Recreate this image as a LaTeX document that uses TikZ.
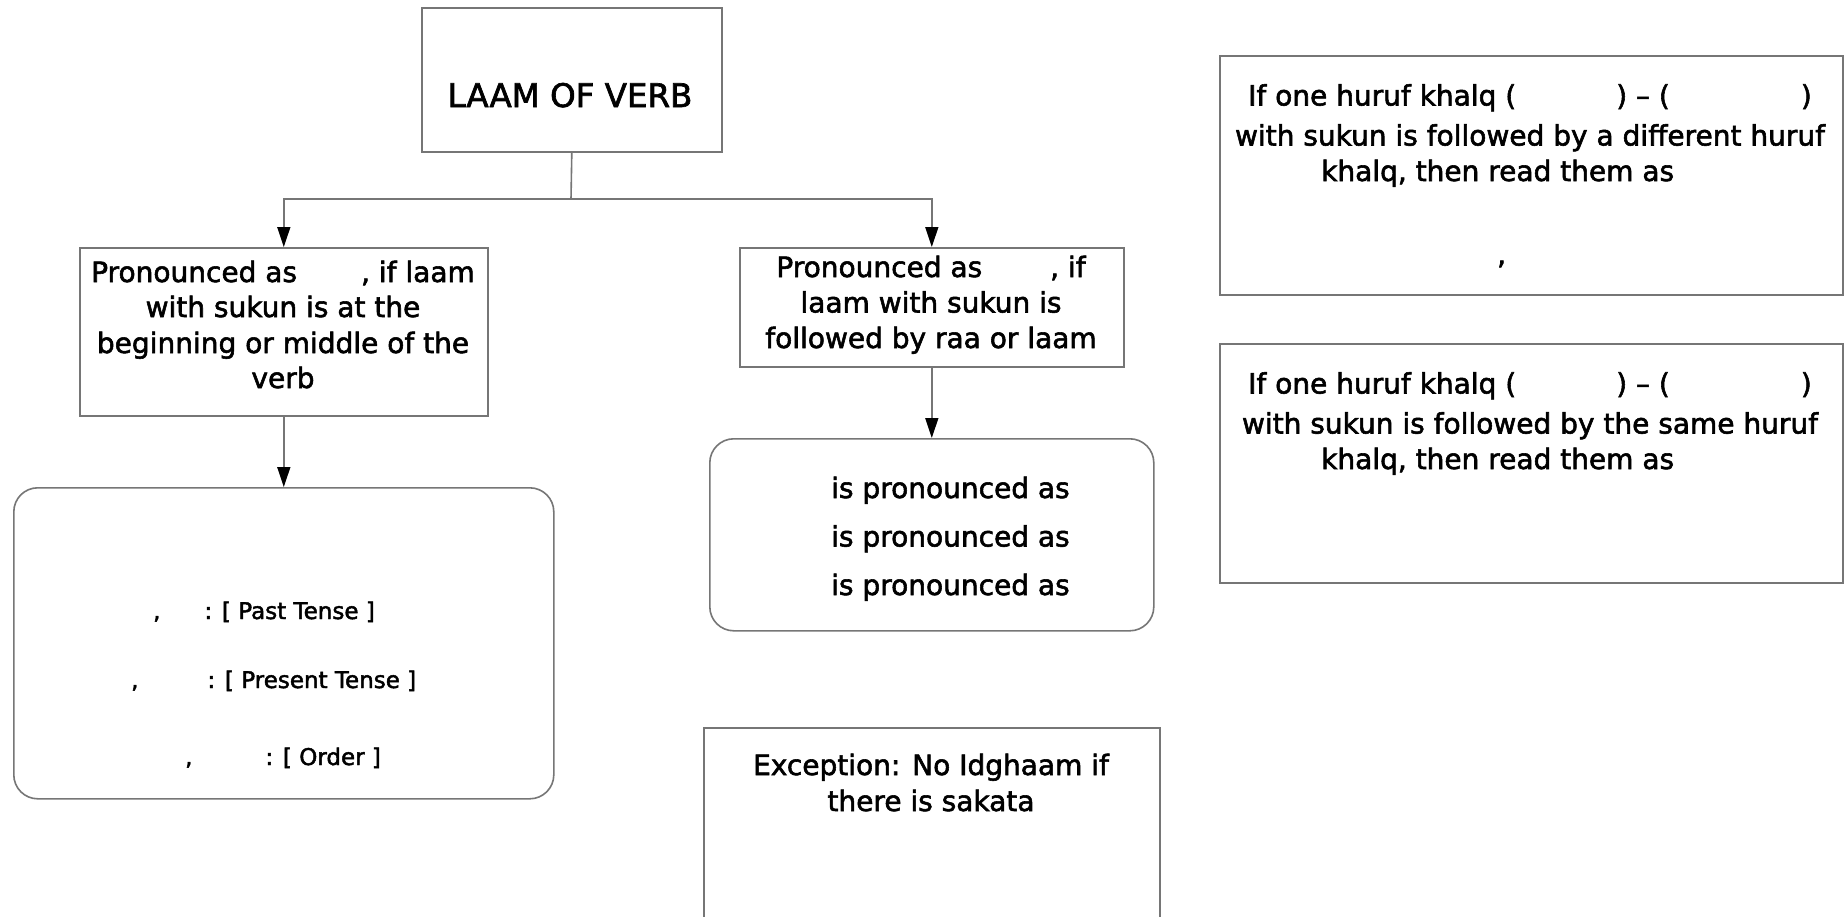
\documentclass[tikz,border=0pt]{standalone}
\usepackage{fontspec}
\setmainfont{DejaVu Sans}[FakeBold=2]
\usetikzlibrary{arrows.meta}
\definecolor{edge}{RGB}{118,118,118}
\newcommand\mainsz{\fontsize{28pt}{34pt}\selectfont}
\newcommand\smallsz{\fontsize{23pt}{28pt}\selectfont}
\newcommand\bigsz{\fontsize{32.5pt}{38pt}\selectfont}
\tikzset{
  box/.style={draw=edge, line width=1.6pt, inner sep=0pt, anchor=north west},
  rbx/.style={box, rounded corners=24pt},
  conn/.style={draw=edge, line width=1.6pt},
  arr/.style={-{Triangle[length=20pt,width=13pt,color=black]}},
  txt/.style={inner sep=0pt, anchor=base, font=\mainsz},
  txtl/.style={inner sep=0pt, anchor=base west, font=\mainsz},
  small/.style={inner sep=0pt, anchor=base west, font=\smallsz},
  big/.style={inner sep=0pt, anchor=base, font=\bigsz},
}
\begin{document}
\begin{tikzpicture}[x=1pt,y=-1pt]
\clip (0,0) rectangle (1844,916);
\fill[white] (0,0) rectangle (1844,916);

% boxes
\node[box, minimum width=300pt, minimum height=144pt] (top) at (421,7) {};
\node[box, minimum width=408pt, minimum height=168pt] (lbox) at (79,247) {};
\node[box, minimum width=384pt, minimum height=119pt] (rbox) at (739,247) {};
\node[rbx, minimum width=540pt, minimum height=311pt] (lround) at (13,487) {};
\node[rbx, minimum width=444pt, minimum height=192pt] (rround) at (709,438) {};
\node[box, minimum width=456pt, minimum height=240pt] (exc) at (703,727) {};
\node[box, minimum width=623pt, minimum height=239pt] (hk1) at (1219,55) {};
\node[box, minimum width=623pt, minimum height=239pt] (hk2) at (1219,343) {};

% connectors
\coordinate (j) at (571,199);
\draw[conn] (top.south) -- (j);
\draw[conn,arr] (j) -| (lbox.north);
\draw[conn,arr] (j) -| (rbox.north);
\draw[conn,arr] (lbox.south) -- (lround.north);
\draw[conn,arr] (rbox.south) -- (rround.north);

% texts
\node[big] (tl) at (570,107) {LAAM OF VERB};

\node[txt] (l1) at (283,282) {Pronounced as\hspace{64pt}, if laam};
\node[txt] (l2) at (283,317) {with sukun is at the};
\node[txt] (l3) at (283,353) {beginning or middle of the};
\node[txt] (l4) at (283,388) {verb};

\node[txt] (r1) at (931,277) {Pronounced as\hspace{68pt}, if};
\node[txt] (r2) at (931,312.5) {laam with sukun is};
\node[txt] (r3) at (931,348) {followed by raa or laam};

\node[txtl] (p1) at (831,498) {is pronounced as};
\node[txtl] (p2) at (831,546.5) {is pronounced as};
\node[txtl] (p3) at (831,595) {is pronounced as};

\node[small] (a1) at (153,619) {,\hspace{44pt}: [ Past Tense ]};
\node[small] (a2) at (131,688) {,\hspace{69pt}: [ Present Tense ]};
\node[small] (a3) at (185,765) {,\hspace{73pt}: [ Order ]};

\node[txt] (e1) at (931,775) {Exception: No Idghaam if};
\node[txt] (e2) at (931,811) {there is sakata};

\node[txtl] (h11) at (1248,105.5) {If one huruf khalq (\hspace{100pt}) \textendash{} (\hspace{131pt})};
\node[txt] (h12) at (1530,145.5) {with sukun is followed by a different huruf};
\node[txtl] (h13) at (1321,181) {khalq, then read them as};
\node[txtl] (h14) at (1497,264) {,};

\node[txtl] (h21) at (1248,393.5) {If one huruf khalq (\hspace{100pt}) \textendash{} (\hspace{131pt})};
\node[txt] (h22) at (1530,433.5) {with sukun is followed by the same huruf};
\node[txtl] (h23) at (1321,469) {khalq, then read them as};
\end{tikzpicture}
\end{document}
